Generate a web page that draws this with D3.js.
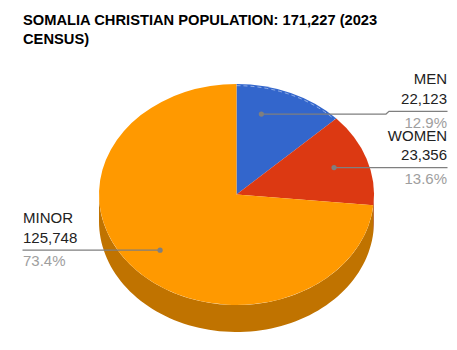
<!DOCTYPE html>
<html>
<head>
<meta charset="utf-8">
<script src="https://cdn.jsdelivr.net/npm/d3@7"></script>
<style>
  html, body { margin: 0; padding: 0; background: #fff; }
  svg { display: block; }
</style>
</head>
<body>
<svg id="chart" width="457" height="350"></svg>
<script>
// Somalia Christian population by group, 2023 census
const titleLines = ["SOMALIA CHRISTIAN POPULATION: 171,227 (2023", "CENSUS)"];
const categories = ["MEN", "WOMEN", "MINOR"];
const values = [22123, 23356, 125748];
const colors = ["#3366cc", "#dc3912", "#ff9900"];

const W = 457, H = 350;
const svg = d3.select("#chart");
const font = "'Liberation Sans', Arial, sans-serif";

// Title
svg.append("g").selectAll("text").data(titleLines).join("text")
  .attr("x", 23)
  .attr("y", (d, i) => 25 + i * 18.5)
  .attr("font-family", font)
  .attr("font-size", 14.7)
  .attr("font-weight", "bold")
  .attr("fill", "#000")
  .text(d => d);

// Tilted pie geometry
const cx = 236.5, cy = 194.5, rx = 137.5, ry = 110.5, depth = 27;
const total = d3.sum(values);

const pie = d3.pie().sort(null).value(d => d)
  .startAngle(0).endAngle(2 * Math.PI);
const arcs = pie(values).map((a, i) => ({ ...a, name: categories[i], color: colors[i] }));

const pt = (t, k = 1, dy = 0) => [cx + k * rx * Math.sin(t), cy - k * ry * Math.cos(t) + dy];

// Side walls (only the front half, 90°..270°, is visible)
const sideG = svg.append("g");
arcs.forEach(a => {
  const a0 = Math.max(a.startAngle, Math.PI / 2);
  const a1 = Math.min(a.endAngle, 3 * Math.PI / 2);
  if (a1 <= a0) return;
  const n = 80;
  const ts = d3.range(n + 1).map(i => a0 + (a1 - a0) * i / n);
  const top = ts.map(t => pt(t));
  const bot = ts.slice().reverse().map(t => pt(t, 1, depth));
  sideG.append("path")
    .attr("d", d3.line()(top.concat(bot)) + "Z")
    .attr("fill", d3.color(a.color).darker(0.8));
});

// Top faces
const topG = svg.append("g");
arcs.forEach(a => {
  const p0 = pt(a.startAngle), p1 = pt(a.endAngle);
  const large = (a.endAngle - a.startAngle) > Math.PI ? 1 : 0;
  topG.append("path")
    .attr("d", `M${cx},${cy}L${p0[0]},${p0[1]}A${rx},${ry} 0 ${large} 1 ${p1[0]},${p1[1]}Z`)
    .attr("fill", a.color);
});

// faint rim highlight on the first slice
{
  const a = arcs[0];
  const n = 40, k = 0.985;
  const ts = d3.range(n + 1).map(i => a.startAngle + (a.endAngle - a.startAngle) * i / n);
  topG.append("path")
    .attr("d", d3.line()(ts.map(t => pt(t, k))))
    .attr("fill", "none")
    .attr("stroke", "#fff")
    .attr("stroke-opacity", 0.45)
    .attr("stroke-width", 1)
    .attr("stroke-dasharray", "4,3");
}

// Labels with leader lines
const anchorFrac = [0.3, 0.5, 0.5];   // where along each slice the leader dot sits
const labelNudge = [-2.7, 0, 0];      // vertical shift of the label rule vs. the dot
const fmt = d3.format(",");
const pct = d3.format(".1%");
const labelG = svg.append("g").attr("font-family", font).attr("font-size", 15);

arcs.forEach((a, i) => {
  const t = a.startAngle + (a.endAngle - a.startAngle) * anchorFrac[i];
  const [dx, dy] = pt(t, 0.75);
  const right = Math.sin(t) >= 0;
  const ly = dy + labelNudge[i];
  const edge = right ? 447.5 : 22.5;
  const anchor = right ? "end" : "start";

  let d;
  if (Math.abs(ly - dy) > 0.1) {
    const kx = edge - 60;
    d = `M${dx},${dy}L${kx - 1.5},${dy}L${kx + 1.5},${ly}L${edge},${ly}`;
  } else {
    d = `M${dx},${dy}L${edge},${ly}`;
  }
  labelG.append("path").attr("d", d)
    .attr("fill", "none").attr("stroke", "#7f7f7f").attr("stroke-width", 1.2);
  labelG.append("circle").attr("cx", dx).attr("cy", dy).attr("r", 2.6).attr("fill", "#7f7f7f");

  const tx = right ? 447 : 23;
  labelG.append("text").attr("x", tx).attr("y", ly - 27).attr("text-anchor", anchor)
    .attr("fill", "#222").text(a.name);
  labelG.append("text").attr("x", tx).attr("y", ly - 7.5).attr("text-anchor", anchor)
    .attr("fill", "#222").text(fmt(a.value));
  labelG.append("text").attr("x", tx).attr("y", ly + 16.2).attr("text-anchor", anchor)
    .attr("fill", "#9e9e9e").text(pct(a.value / total));
});
</script>
</body>
</html>
